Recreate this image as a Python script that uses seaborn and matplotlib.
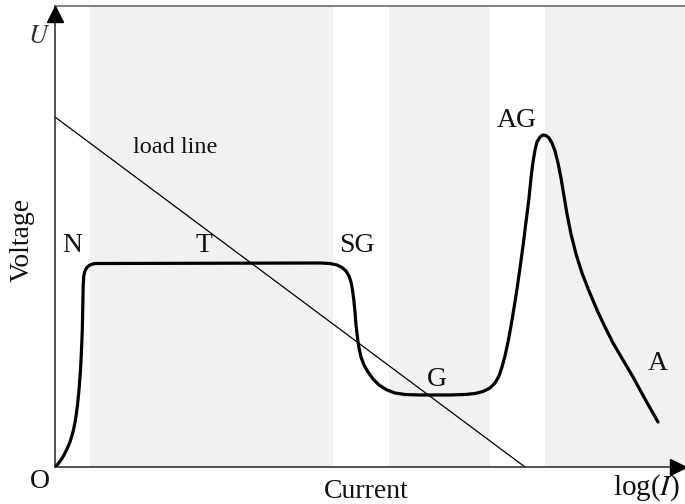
import matplotlib
matplotlib.use("Agg")
import matplotlib.pyplot as plt
import seaborn as sns
import pandas as pd

# Discharge characteristic: log-current (x) vs voltage (y), arbitrary units
curve_x = [0, 3, 6, 9, 12, 15, 18, 20.5, 22.5, 24, 25.5, 26.5, 27.3, 27.8, 28.2,
           28.8, 30, 31.5, 33.5, 36, 40,
           265, 275, 282, 287, 291, 294, 296, 297.5, 298.8, 300, 301, 302.5, 304,
           306, 309, 313, 318, 324, 332, 340, 350, 365, 395, 410, 420, 428, 435,
           440, 444, 447, 450, 453, 456, 459, 462, 465, 468, 471, 474, 476, 478,
           480, 482, 485, 488, 491, 494, 497, 500, 503, 506, 509, 512, 516, 521,
           527, 534, 542, 550, 558, 568, 578, 590, 603]
curve_y = [0, 3, 7, 12, 18, 25, 35, 47, 62, 77, 97, 117, 137, 162, 182,
           191, 196, 199, 201, 202.5, 203.5,
           204, 203.5, 202, 199.5, 196, 191, 185, 177, 167, 155, 142, 129, 119,
           110, 102, 95, 88, 82, 77, 74, 72.5, 72, 72, 72.5, 73.5, 75.5, 79,
           84, 91, 100, 111, 125, 141, 159, 178, 199, 221, 245, 269, 289, 305,
           317, 325, 330, 332, 331.5, 329, 324, 316, 304, 289, 271, 253, 233, 213,
           194, 176, 157, 140, 124, 107, 90, 68, 45]

# Load line end points
load_x = [0, 470]
load_y = [350, 0]

# Shaded regime bands (x start, x end)
band_starts = [35, 334, 490]
band_ends = [278, 435, 630]

# Regime labels
region_labels = ["N", "T", "SG", "G", "AG", "A"]
region_x = [17, 149, 302, 382, 462, 603]
region_y = [222, 222, 222, 87, 347, 104]

sns.set_theme(style="white")
plt.rcParams["font.family"] = ["Liberation Serif", "DejaVu Serif"]
plt.rcParams["mathtext.fontset"] = "stix"

fig = plt.figure(figsize=(6.85, 5.04), dpi=100)
ax = fig.add_axes([55 / 685, 37 / 504, 630 / 685, 461 / 504])
ax.set_xlim(0, 630)
ax.set_ylim(0, 461)

for x0, x1 in zip(band_starts, band_ends):
    ax.axvspan(x0, x1, color="#f1f1f1", lw=0, zorder=0)

curve = pd.DataFrame({"x": curve_x, "y": curve_y})
load = pd.DataFrame({"x": load_x, "y": load_y})
sns.lineplot(data=curve, x="x", y="y", sort=False, color="black", lw=2.3,
             ax=ax, zorder=3)
sns.lineplot(data=load, x="x", y="y", sort=False, color="black", lw=0.9,
             ax=ax, zorder=2)

for lab, x, y in zip(region_labels, region_x, region_y):
    ax.text(x, y, lab, ha="center", va="center", fontsize=20, color="#111111")
ax.text(120, 320, "load line", ha="center", va="center", fontsize=17.5,
        color="#111111")

# Axis annotations
ax.text(-16, 430, "$U$", ha="center", va="center", fontsize=19, color="#333333",
        clip_on=False)
ax.text(-15, -15, "O", ha="center", va="center", fontsize=20, color="#111111",
        clip_on=False)
ax.text(592, -21, r"log($I$)", ha="center", va="center", fontsize=21,
        color="#111111", clip_on=False)
ax.text(311, -25, "Current", ha="center", va="center", fontsize=20,
        color="#111111", clip_on=False)
ax.text(-33, 227, "Voltage", ha="center", va="center", rotation=90,
        fontsize=20, color="#111111", clip_on=False)

# Spines and arrow heads
for side in ["left", "bottom"]:
    ax.spines[side].set_color("#222222")
    ax.spines[side].set_linewidth(1.1)
ax.spines["top"].set_color("#777777")
ax.spines["top"].set_linewidth(1.3)
ax.spines["right"].set_visible(False)
ax.plot([0], [1 - 8 / 461], marker="^", ms=11, color="black",
        transform=ax.transAxes, clip_on=False, zorder=5)
ax.plot([623 / 630], [0], marker=">", ms=11, color="black",
        transform=ax.transAxes, clip_on=False, zorder=5)

ax.set_xticks([])
ax.set_yticks([])
ax.set_xlabel("")
ax.set_ylabel("")

fig.savefig("out.png", dpi=100)
